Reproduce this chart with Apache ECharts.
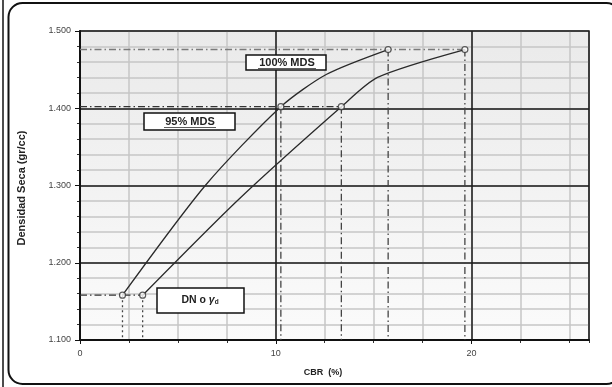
<!DOCTYPE html>
<html>
<head>
<meta charset="utf-8">
<script src="https://cdn.jsdelivr.net/npm/echarts@6/dist/echarts.min.js"></script>
<style>
  html, body { margin: 0; padding: 0; background: #fff; }
  #chart { width: 612px; height: 387px; }
</style>
</head>
<body>
<div id="chart"></div>
<script>
// Compaction curves: CBR (%) versus dry density (gr/cc)
const cbrCurveA  = [2.17, 6.4, 10.26, 12.6, 15.74];
const densCurveA = [1.158, 1.300, 1.402, 1.444, 1.476];
const cbrCurveB  = [3.2, 8.1, 13.35, 15.2, 19.66];
const densCurveB = [1.158, 1.282, 1.402, 1.440, 1.476];

// Reference density levels: DN, 95% MDS, 100% MDS
const densLevels   = [1.158, 1.402, 1.476];
const cbrAtLevelsA = [2.17, 10.26, 15.74];
const cbrAtLevelsB = [3.2, 13.35, 19.66];

const xTicks = [0, 10, 20];
const yTicks = [1.1, 1.2, 1.3, 1.4, 1.5];

const FONT = 'Liberation Sans, Arial, sans-serif';
const pair = (xs, ys) => xs.map((x, i) => [x, ys[i]]);

const chart = echarts.init(document.getElementById('chart'), null, { renderer: 'canvas' });

const dashDot = [7, 3, 1.5, 3];
const refSeries = [];
// horizontal guides from the axis to the right-hand curve
densLevels.forEach((d, i) => {
  refSeries.push({
    type: 'line', symbol: 'none', silent: true, z: 3,
    data: [[0, d], [cbrAtLevelsB[i], d]],
    lineStyle: { color: i === 2 ? '#7a7a7a' : '#333', width: i === 2 ? 1.6 : 1.3, type: dashDot }
  });
});
// vertical guides from each marked point down to the CBR axis
[cbrAtLevelsA, cbrAtLevelsB].forEach(arr => {
  arr.forEach((c, i) => {
    refSeries.push({
      type: 'line', symbol: 'none', silent: true, z: 3,
      data: [[c, densLevels[i]], [c, yTicks[0]]],
      lineStyle: { color: '#444', width: 1.3, type: i === 0 ? [2, 3] : dashDot }
    });
  });
});

const curveLine = { color: '#2a2a2a', width: 1.3 };

chart.setOption({
  animation: false,
  backgroundColor: '#fff',
  grid: {
    left: 80, right: 23, top: 31, bottom: 47,
    show: true,
    backgroundColor: new echarts.graphic.LinearGradient(0, 0, 0, 1, [
      { offset: 0, color: '#eaeaea' }, { offset: 1, color: '#fbfbfb' }
    ]),
    borderColor: '#222', borderWidth: 1.5
  },
  xAxis: [{
    type: 'value', min: xTicks[0], max: 26, interval: 10,
    axisLine: { show: true, onZero: false, lineStyle: { color: '#111', width: 2 } },
    axisTick: { show: true, length: 4, lineStyle: { color: '#111' } },
    axisLabel: { color: '#444', fontSize: 9, fontFamily: FONT, margin: 9, showMaxLabel: false,
      formatter: v => xTicks.includes(v) ? String(v) : '' },
    splitLine: { show: true, lineStyle: { color: '#1a1a1a', width: 1.5 } },
    z: 2
  }, {
    type: 'value', min: 0, max: 26, interval: 2.5, position: 'bottom',
    axisLine: { show: false }, axisTick: { show: true, length: 3, lineStyle: { color: '#333' } },
    axisLabel: { show: false },
    splitLine: { show: true, lineStyle: { color: '#c6c6c6', width: 1.5 } },
    z: 1
  }],
  yAxis: [{
    type: 'value', min: yTicks[0], max: yTicks[yTicks.length - 1], interval: 0.1,
    axisLine: { show: true, onZero: false, lineStyle: { color: '#111', width: 2 } },
    axisTick: { show: true, length: 5, lineStyle: { color: '#111' } },
    axisLabel: { color: '#444', fontSize: 9, fontFamily: FONT, margin: 9, formatter: v => v.toFixed(3) },
    splitLine: { show: true, lineStyle: { color: '#1a1a1a', width: 1.5 } },
    z: 2
  }, {
    type: 'value', min: yTicks[0], max: yTicks[yTicks.length - 1], interval: 0.02, position: 'left',
    axisLine: { show: false }, axisTick: { show: true, length: 3, lineStyle: { color: '#333' } },
    axisLabel: { show: false },
    splitLine: { show: true, lineStyle: { color: '#c6c6c6', width: 1.5 } },
    z: 1
  }],
  series: [
    ...refSeries,
    {
      type: 'line', smooth: 0.25, symbol: 'none', z: 4,
      data: pair(cbrCurveA, densCurveA), lineStyle: curveLine
    },
    {
      type: 'line', smooth: 0.25, symbol: 'none', z: 4,
      data: pair(cbrCurveB, densCurveB), lineStyle: curveLine
    },
    {
      type: 'scatter', z: 5, symbol: 'circle', symbolSize: 6,
      data: pair(cbrAtLevelsA, densLevels).concat(pair(cbrAtLevelsB, densLevels)),
      itemStyle: { color: '#fff', borderColor: '#333', borderWidth: 1.2 }
    }
  ],
  graphic: [
    // page frame
    { type: 'line', z: 50, shape: { x1: 3, y1: 0, x2: 3, y2: 387 }, style: { stroke: '#111', lineWidth: 1.5 } },
    { type: 'rect', z: 50, shape: { x: 8.5, y: 3, width: 612, height: 381, r: 14 },
      style: { fill: 'none', stroke: '#111', lineWidth: 2 } },
    // axis titles
    { type: 'text', z: 50, x: 22, y: 188, rotation: Math.PI / 2,
      style: { text: 'Densidad Seca (gr/cc)', font: 'bold 11px ' + FONT, fill: '#222', align: 'center', verticalAlign: 'middle' } },
    { type: 'text', z: 50, x: 323, y: 373,
      style: { text: 'CBR  (%)', font: 'bold 9px ' + FONT, fill: '#222', align: 'center', verticalAlign: 'middle' } },
    // annotation boxes
    { type: 'rect', z: 60, shape: { x: 246, y: 55, width: 80, height: 15 },
      style: { fill: '#fff', stroke: '#111', lineWidth: 1.5 } },
    { type: 'text', z: 61, x: 287, y: 63,
      style: { text: '100% MDS', font: 'bold 11px ' + FONT, fill: '#222', align: 'center', verticalAlign: 'middle' } },
    { type: 'line', z: 61, shape: { x1: 258, y1: 68.5, x2: 316, y2: 68.5 }, style: { stroke: '#333', lineWidth: 0.8 } },
    { type: 'rect', z: 60, shape: { x: 144, y: 113, width: 91, height: 17 },
      style: { fill: '#fff', stroke: '#111', lineWidth: 1.5 } },
    { type: 'text', z: 61, x: 190, y: 122,
      style: { text: '95% MDS', font: 'bold 11px ' + FONT, fill: '#222', align: 'center', verticalAlign: 'middle' } },
    { type: 'line', z: 61, shape: { x1: 164, y1: 127.5, x2: 216, y2: 127.5 }, style: { stroke: '#333', lineWidth: 0.8 } },
    { type: 'rect', z: 60, shape: { x: 157, y: 288, width: 87, height: 25 },
      style: { fill: '#fff', stroke: '#111', lineWidth: 1.5 } },
    { type: 'text', z: 61, x: 200, y: 300,
      style: {
        text: '{a|DN o }{g|γ}{s|d}',
        align: 'center', verticalAlign: 'middle',
        rich: {
          a: { font: 'bold 10.5px ' + FONT, fill: '#222' },
          g: { font: 'italic bold 10.5px ' + FONT, fill: '#222' },
          s: { font: 'bold 6.5px ' + FONT, fill: '#222', padding: [4, 0, 0, 0] }
        }
      } }
  ]
});
</script>
</body>
</html>
